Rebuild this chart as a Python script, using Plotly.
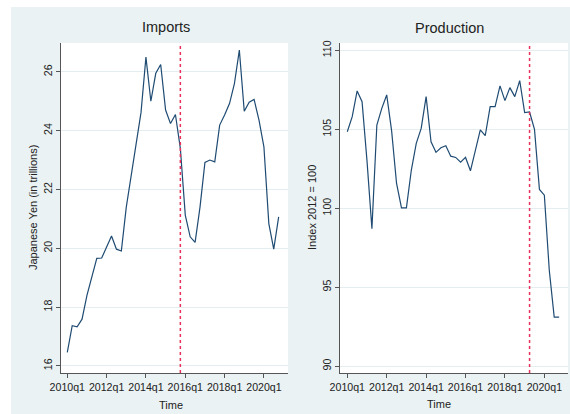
import plotly.graph_objects as go

# ---------------- data ----------------
quarters = [f"{yr}q{q}" for yr in range(2010, 2021) for q in range(1, 5)]

imports = [16.46, 17.37, 17.33, 17.59, 18.40, 19.00, 19.66, 19.67, 20.05, 20.42,
           19.97, 19.91, 21.40, 22.45, 23.50, 24.62, 26.50, 25.00, 25.95, 26.25,
           24.70, 24.24, 24.55, 23.40, 21.13, 20.39, 20.20, 21.40, 22.92, 23.00,
           22.94, 24.19, 24.53, 24.92, 25.60, 26.74, 24.66, 24.97, 25.06, 24.36,
           23.45, 20.84, 19.97, 21.07]

production = [104.85, 105.80, 107.43, 106.75, 103.00, 98.71, 105.27, 106.33, 107.18, 104.90,
              101.57, 100.02, 100.02, 102.42, 104.11, 105.06, 107.07, 104.21, 103.54, 103.83,
              103.96, 103.30, 103.22, 102.92, 103.22, 102.37, 103.67, 104.96, 104.60, 106.44,
              106.44, 107.75, 106.82, 107.64, 107.07, 108.09, 106.06, 106.10, 105.00, 101.19,
              100.83, 96.07, 93.10, 93.10]

x_ticks = ["2010q1", "2012q1", "2014q1", "2016q1", "2018q1", "2020q1"]
imports_yticks = [16, 18, 20, 22, 24, 26]
production_yticks = [90, 95, 100, 105, 110]
imports_event = "2015q4"
production_event = "2019q2"

# ---------------- styling ----------------
W, H = 570, 414
BG = "#eaf2f3"
NAVY = "#1f4b73"
RED = "#e8305a"
AX = "#555555"
TXT = "#222222"
FONT = "Liberation Sans, Arial, sans-serif"


def px(x):
    return x / W


def py(y):
    return 1 - y / H


fig = go.Figure()
fig.add_trace(go.Scatter(x=quarters, y=imports, mode="lines",
                         line=dict(color=NAVY, width=1.2), xaxis="x", yaxis="y",
                         showlegend=False))
fig.add_trace(go.Scatter(x=quarters, y=production, mode="lines",
                         line=dict(color=NAVY, width=1.2), xaxis="x2", yaxis="y2",
                         showlegend=False))

xcommon = dict(type="category", tickmode="array", tickvals=x_ticks, ticktext=x_ticks,
               ticks="outside", ticklen=4, tickcolor=AX, tickwidth=1,
               showline=True, linecolor=AX, linewidth=1, showgrid=False, zeroline=False,
               tickfont=dict(size=10.6, color=TXT, family=FONT), tickangle=0,
               automargin=False)
ycommon = dict(ticks="outside", ticklen=4, tickcolor=AX, tickwidth=1,
               showline=True, linecolor=AX, linewidth=1, showgrid=True,
               gridcolor="#e4eef0", gridwidth=1, zeroline=False, tickangle=-90,
               tickfont=dict(size=10.6, color=TXT, family=FONT), tickmode="array",
               automargin=False)

fig.update_layout(
    width=W, height=H,
    margin=dict(l=0, r=0, t=0, b=0, pad=0, autoexpand=False),
    paper_bgcolor=BG, plot_bgcolor="white",
    font=dict(family=FONT, color=TXT),
    xaxis=dict(xcommon, domain=[px(61), px(288)], range=[-1.28, 44.9], anchor="y"),
    yaxis=dict(ycommon, domain=[py(373), py(43)], range=[15.76, 26.98],
               tickvals=imports_yticks, anchor="x"),
    xaxis2=dict(xcommon, domain=[px(340), px(568)], range=[-1.48, 44.8], anchor="y2"),
    yaxis2=dict(ycommon, domain=[py(373), py(43)], range=[89.56, 110.47],
                tickvals=production_yticks, anchor="x2"),
    shapes=[
        dict(type="rect", xref="paper", yref="paper", x0=0, x1=px(11), y0=0, y1=1,
             fillcolor="white", line=dict(width=0), layer="below"),
        dict(type="rect", xref="paper", yref="paper", x0=0, x1=1, y0=py(7), y1=1,
             fillcolor="white", line=dict(width=0), layer="below"),
        dict(type="line", xref="x", yref="y domain", x0=imports_event, x1=imports_event,
             y0=0, y1=1, line=dict(color=RED, width=1.5, dash="dot")),
        dict(type="line", xref="x2", yref="y2 domain", x0=production_event,
             x1=production_event, y0=0, y1=1, line=dict(color=RED, width=1.5, dash="dot")),
    ],
    annotations=[
        dict(text="Imports", x=px(166), y=py(26.5), xref="paper", yref="paper",
             showarrow=False, xanchor="center", yanchor="middle",
             font=dict(size=14.5, color=TXT)),
        dict(text="Production", x=px(449), y=py(28.5), xref="paper", yref="paper",
             showarrow=False, xanchor="center", yanchor="middle",
             font=dict(size=14.5, color=TXT)),
        dict(text="Time", x=px(171), y=py(405), xref="paper", yref="paper",
             showarrow=False, xanchor="center", yanchor="middle",
             font=dict(size=11, color=TXT)),
        dict(text="Time", x=px(439), y=py(404), xref="paper", yref="paper",
             showarrow=False, xanchor="center", yanchor="middle",
             font=dict(size=11, color=TXT)),
        dict(text="Japanese Yen (in trillions)", x=px(33), y=py(208), xref="paper",
             yref="paper", showarrow=False, xanchor="center", yanchor="middle",
             textangle=-90, font=dict(size=11, color=TXT)),
        dict(text="Index 2012 = 100", x=px(312), y=py(208), xref="paper",
             yref="paper", showarrow=False, xanchor="center", yanchor="middle",
             textangle=-90, font=dict(size=11, color=TXT)),
    ],
)

fig.write_html("out.html")
